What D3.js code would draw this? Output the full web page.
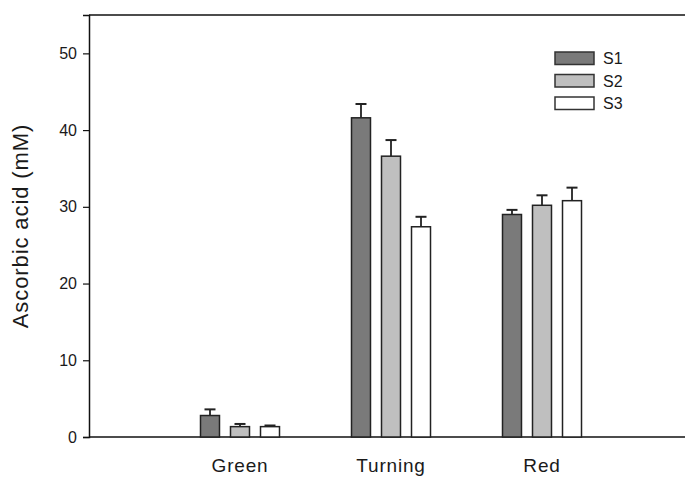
<!DOCTYPE html>
<html>
<head>
<meta charset="utf-8">
<script src="https://cdn.jsdelivr.net/npm/d3@7"></script>
<style>
  body { margin: 0; background: #fff; }
  svg { display: block; }
  text { font-family: "Liberation Sans", Arial, sans-serif; fill: #1a1a1a; }
</style>
</head>
<body>
<div id="chart"></div>
<script>
// data
var stages = ["Green", "Turning", "Red"];
var series = ["S1", "S2", "S3"];
var s1 = [2.8, 41.6, 29.0];
var s2 = [1.35, 36.6, 30.2];
var s3 = [1.35, 27.4, 30.8];
var s1Err = [0.8, 1.8, 0.6];
var s2Err = [0.35, 2.1, 1.3];
var s3Err = [0.15, 1.3, 1.7];
var yTicks = [0, 10, 20, 30, 40, 50];
var colors = ["#7a7a7a", "#bfbfbf", "#ffffff"];

var values = [s1, s2, s3];
var errs = [s1Err, s2Err, s3Err];

var w = 685, h = 477;
var margin = {top: 15, left: 89, bottom: 40};

var svg = d3.select("#chart").append("svg")
  .attr("width", w)
  .attr("height", h);

var y = d3.scaleLinear().domain([0, 55]).range([h - margin.bottom, margin.top]);

// categories sit at 1,2,3 on an axis that runs past the right edge
var x = d3.scalePoint().domain(stages).range([margin.left, 693]).padding(1);
var xs = d3.scaleBand().domain(series).range([-39.5, 39.5]).paddingInner(0.367).paddingOuter(0);

// frame: top line and baseline
svg.append("line")
  .attr("x1", margin.left).attr("x2", w)
  .attr("y1", y(55)).attr("y2", y(55))
  .attr("stroke", "#111").attr("stroke-width", 1.5);
svg.append("line")
  .attr("x1", margin.left).attr("x2", w)
  .attr("y1", y(0)).attr("y2", y(0))
  .attr("stroke", "#111").attr("stroke-width", 1.5);

// y axis
var yAxis = d3.axisLeft(y).tickValues(yTicks).tickSize(6).tickPadding(6);
var gy = svg.append("g")
  .attr("transform", "translate(" + margin.left + ",0)")
  .call(yAxis);
gy.select(".domain").attr("stroke", "#111").attr("stroke-width", 1.5);
gy.selectAll(".tick line").attr("stroke", "#111").attr("stroke-width", 1.2);
gy.selectAll(".tick text")
  .style("font-family", "'Liberation Sans', Arial, sans-serif")
  .style("font-size", "16px")
  .attr("fill", "#1a1a1a");

// y title
svg.append("text")
  .attr("transform", "translate(28," + ((y(0) + y(55)) / 2) + ") rotate(-90)")
  .attr("text-anchor", "middle")
  .style("font-size", "22px")
  .style("letter-spacing", "0.9px")
  .text("Ascorbic acid (mM)");

// x labels
svg.selectAll("text.xlab").data(stages).enter().append("text")
  .attr("class", "xlab")
  .attr("x", function(d) { return x(d); })
  .attr("y", 472)
  .attr("text-anchor", "middle")
  .style("font-size", "19px")
  .style("letter-spacing", "0.8px")
  .text(function(d) { return d; });

// bars and error bars per series
series.forEach(function(s, si) {
  var g = svg.append("g");
  stages.forEach(function(st, ci) {
    var bx = x(st) + xs(s);
    var cx = bx + xs.bandwidth() / 2;
    var v = values[si][ci];
    var e = errs[si][ci];
    g.append("line")
      .attr("x1", cx).attr("x2", cx)
      .attr("y1", y(v)).attr("y2", y(v + e))
      .attr("stroke", "#222").attr("stroke-width", 1.8);
    g.append("line")
      .attr("x1", cx - 5.5).attr("x2", cx + 5.5)
      .attr("y1", y(v + e)).attr("y2", y(v + e))
      .attr("stroke", "#222").attr("stroke-width", 2);
    g.append("rect")
      .attr("x", bx)
      .attr("y", y(v))
      .attr("width", xs.bandwidth())
      .attr("height", y(0) - y(v))
      .attr("fill", colors[si])
      .attr("stroke", "#222")
      .attr("stroke-width", 1.5);
  });
});

// legend
var legend = svg.append("g").attr("transform", "translate(555,52)");
series.forEach(function(s, i) {
  legend.append("rect")
    .attr("x", 0).attr("y", i * 22.5)
    .attr("width", 39).attr("height", 12.5)
    .attr("fill", colors[i])
    .attr("stroke", "#333").attr("stroke-width", 1.5);
  legend.append("text")
    .attr("x", 48).attr("y", i * 22.5 + 12)
    .style("font-size", "16px")
    .text(s);
});
</script>
</body>
</html>
